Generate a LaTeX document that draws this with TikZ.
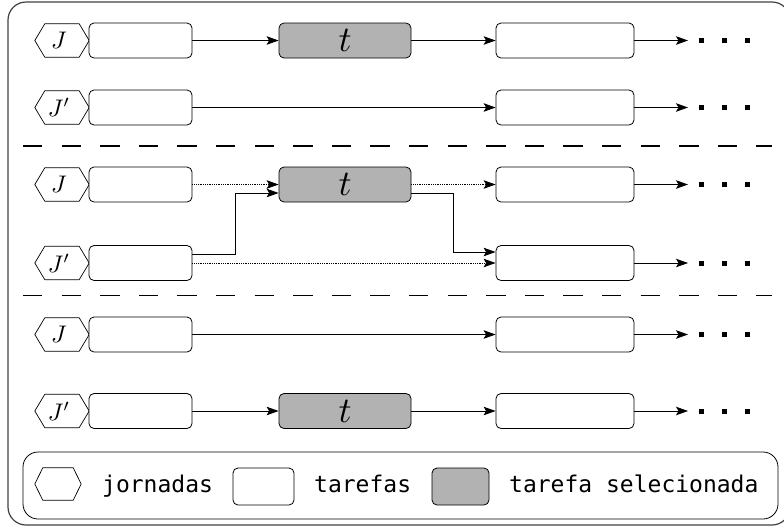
\documentclass[tikz,border=0pt]{standalone}
\usepackage{graphicx}
\usepackage{fontspec}
\setmonofont{DejaVu Sans Mono}
\usetikzlibrary{arrows.meta}

\tikzset{
  task/.style={draw, line width=0.8pt, rounded corners=5pt, fill=white,
    minimum width=103pt, minimum height=35pt, inner sep=0pt},
  chosen/.style={task, fill=black!30, minimum width=132pt},
  nexttask/.style={task, minimum width=138pt},
  hexbox/.style={minimum width=54pt, minimum height=33pt, inner sep=0pt},
  hexline/.style={draw, line width=0.7pt},
  flow/.style={-{Stealth[length=12pt, width=8.5pt, inset=2.5pt]}, line width=0.8pt},
  weak/.style={flow, densely dotted},
  dotsq/.style={fill=black, minimum size=5pt, inner sep=0pt},
  separator/.style={line width=1.5pt, dash pattern=on 19.3pt off 19.3pt},
  legendtext/.style={inner sep=0pt, anchor=base west,
    font=\ttfamily\fontsize{23}{26}\selectfont},
}

% labels: the job symbol and the chosen task symbol, enlarged
\newcommand\jlab[1]{\scalebox{2.4}{$#1$}\hspace*{6pt}}
\newcommand\tlab{\scalebox{3.6}{$t$}}

% hexagon for a "jornada": invisible box + six-sided outline
\newcommand\jhex[4][10pt]{%
  \node[hexbox] (#2) at (#3) {#4};
  \draw[hexline] (#2.west) -- ([xshift=#1]#2.north west)
    -- ([xshift=-#1]#2.north east) -- (#2.east)
    -- ([xshift=-#1]#2.south east) -- ([xshift=#1]#2.south west) -- cycle;
}

% three square dots after the last task of a row
\newcommand\moredots[2]{%
  \coordinate (#1e) at (688,#2);
  \node[dotsq] (#1a) at (701.5,#2) {};
  \node[dotsq] (#1b) at (724.5,#2) {};
  \node[dotsq] (#1c) at (747.5,#2) {};
}

\begin{document}
\begin{tikzpicture}[x=1pt, y=-1pt]
\useasboundingbox (0,0) rectangle (784,528);
\clip (0,0) rectangle (784,528);

% outer frame
\draw[line width=1.2pt, black!75, rounded corners=18pt] (8,2) rectangle (790,525);

% ---- scenario 1 ----
\jhex{h1}{62,40.5}{\jlab{J}}
\node[task] (b1) at (140.5,40.5) {};
\node[chosen] (g1) at (345,40.5) {\tlab};
\node[nexttask] (c1) at (565,40.5) {};
\moredots{m1}{40.5}
\draw[flow] (b1) -- (g1);
\draw[flow] (g1) -- (c1);
\draw[flow] (c1) -- (m1e);

\jhex{h2}{62,107.5}{\jlab{J'}}
\node[task] (b2) at (140.5,107.5) {};
\node[nexttask] (c2) at (565,107.5) {};
\moredots{m2}{107.5}
\draw[flow] (b2) -- (c2);
\draw[flow] (c2) -- (m2e);

\draw[separator] (23,146) -- (772,146);

% ---- scenario 2: t moved from J to J' ----
\jhex{h3}{62,184.5}{\jlab{J}}
\node[task] (b3) at (140.5,184.5) {};
\node[chosen] (g3) at (345,184.5) {\tlab};
\node[nexttask] (c3) at (565,184.5) {};
\moredots{m3}{184.5}
\draw[weak] (b3) -- (g3);
\draw[weak] (g3) -- (c3);
\draw[flow] (c3) -- (m3e);

\jhex{h4}{62,263}{\jlab{J'}}
\node[task] (b4) at (140.5,263) {};
\node[nexttask] (c4) at (565,263) {};
\moredots{m4}{263}
\draw[flow] ([yshift=9pt]b4.east) -- ++(43,0) |- ([yshift=-8.5pt]g3.west);
\draw[flow] ([yshift=-8.5pt]g3.east) -- ++(42,0) |- ([yshift=11pt]c4.west);
\draw[weak] (b4) -- (c4);
\draw[flow] (c4) -- (m4e);

\draw[separator] (23,295.5) -- (772,295.5);

% ---- scenario 3 ----
\jhex{h5}{62,334.5}{\jlab{J}}
\node[task] (b5) at (140.5,334.5) {};
\node[nexttask] (c5) at (565,334.5) {};
\moredots{m5}{334.5}
\draw[flow] (b5) -- (c5);
\draw[flow] (c5) -- (m5e);

\jhex{h6}{62,411}{\jlab{J'}}
\node[task] (b6) at (140.5,411) {};
\node[chosen] (g6) at (345,411) {\tlab};
\node[nexttask] (c6) at (565,411) {};
\moredots{m6}{411}
\draw[flow] (b6) -- (g6);
\draw[flow] (g6) -- (c6);
\draw[flow] (c6) -- (m6e);

% ---- legend ----
\node[draw, line width=0.8pt, rounded corners=15pt, minimum width=755pt,
  minimum height=67pt, inner sep=0pt] (legend) at (400.5,485.5) {};
\node[hexbox, minimum width=46pt, minimum height=32pt] (lh) at (58,484) {};
\draw[hexline] (lh.west) -- ([xshift=8pt]lh.north west)
  -- ([xshift=-8pt]lh.north east) -- (lh.east)
  -- ([xshift=-8pt]lh.south east) -- ([xshift=8pt]lh.south west) -- cycle;
\node[legendtext] (lt1) at (102,492) {jornadas};
\node[task, minimum width=61pt, minimum height=37pt] (lb) at (263.5,486.5) {};
\node[legendtext] (lt2) at (314,492) {tarefas};
\node[task, fill=black!30, minimum width=57pt, minimum height=37pt] (lg) at (460.5,486.5) {};
\node[legendtext] (lt3) at (509,492) {tarefa selecionada};
\end{tikzpicture}
\end{document}
